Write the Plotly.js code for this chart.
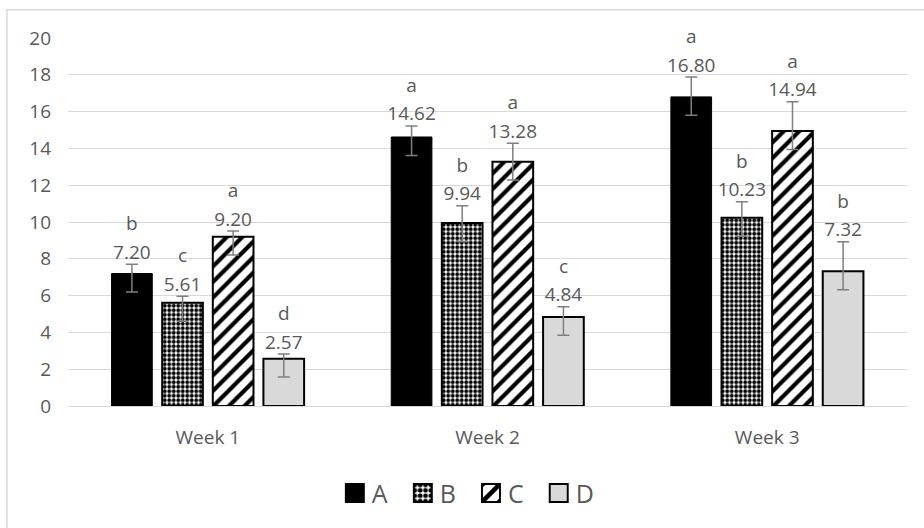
<!DOCTYPE html>
<html>
<head>
<meta charset="utf-8">
<script src="https://cdn.plot.ly/plotly-3.0.1.min.js"></script>
<style>html,body{margin:0;padding:0;background:#fff;}#chart{width:924px;height:528px;}</style>
</head>
<body>
<div id="chart"></div>
<script>
// ---- data ----
const categories = ["Week 1", "Week 2", "Week 3"];
const seriesNames = ["A", "B", "C", "D"];
const valuesA = [7.20, 14.62, 16.80];
const valuesB = [5.61, 9.94, 10.23];
const valuesC = [9.20, 13.28, 14.94];
const valuesD = [2.57, 4.84, 7.32];
const errPlusA = [0.50, 0.60, 1.08];
const errPlusB = [0.35, 0.94, 0.87];
const errPlusC = [0.31, 1.00, 1.60];
const errPlusD = [0.25, 0.55, 1.60];
const errMinusA = [1.0, 1.0, 1.0];
const errMinusB = [1.0, 1.0, 1.0];
const errMinusC = [1.0, 1.0, 1.0];
const errMinusD = [1.0, 1.0, 1.0];
const lettersA = ["b", "a", "a"];
const lettersB = ["c", "b", "b"];
const lettersC = ["a", "a", "a"];
const lettersD = ["d", "c", "b"];
const yTicks = [0, 2, 4, 6, 8, 10, 12, 14, 16, 18, 20];

const FONT = "Open Sans, sans-serif";
const GREY = "#595959";

const values = [valuesA, valuesB, valuesC, valuesD];
const plus = [errPlusA, errPlusB, errPlusC, errPlusD];
const minus = [errMinusA, errMinusB, errMinusC, errMinusD];
const letters = [lettersA, lettersB, lettersC, lettersD];

const markers = [
  {color: "#000000", line: {color: "#000000", width: 1}},
  {color: "#ffffff", line: {color: "#000000", width: 2},
   pattern: {shape: ".", fgcolor: "#000000", bgcolor: "#ffffff", size: 4.5, solidity: 0.6, fillmode: "replace"}},
  {color: "#ffffff", line: {color: "#000000", width: 2},
   pattern: {shape: "/", fgcolor: "#000000", bgcolor: "#ffffff", size: 11, solidity: 0.38, fillmode: "replace"}},
  {color: "#d9d9d9", line: {color: "#000000", width: 2}}
];

const traces = [];
for (let i = 0; i < 4; i++) {
  traces.push({
    type: "bar", name: seriesNames[i], x: categories, y: values[i],
    marker: markers[i],
    error_y: {type: "data", symmetric: false, array: plus[i], arrayminus: minus[i],
              color: "#7f7f7f", thickness: 1.5, width: 6},
    hoverinfo: "skip", offsetgroup: "g" + i, legendgroup: seriesNames[i]
  });
}
// letter + value labels just above the upper error bar
const span = s => "<span style='font-size:19px'>" + s + "</span>";
for (let i = 0; i < 4; i++) {
  traces.push({
    type: "scatter", mode: "text", showlegend: false,
    x: categories, y: values[i].map((v, k) => v + plus[i][k]),
    text: values[i].map((v, k) => span(letters[i][k]) + "<br>" + span(v.toFixed(2))),
    textposition: "top center",
    textfont: {family: FONT, size: 22, color: GREY},
    offsetgroup: "g" + i, hoverinfo: "skip", cliponaxis: false
  });
}

const layout = {
  width: 924, height: 528,
  margin: {l: 68, r: 17, t: 38, b: 122},
  paper_bgcolor: "#ffffff", plot_bgcolor: "#ffffff",
  barmode: "group", bargap: 0.276, bargroupgap: 0.196,
  scattermode: "group", scattergap: 0.276,
  font: {family: FONT, color: GREY, size: 19},
  showlegend: true,
  legend: {orientation: "h", x: 0.47, xanchor: "center", y: -0.237, yanchor: "middle",
           font: {family: FONT, size: 25, color: GREY}, traceorder: "normal", itemwidth: 37},
  xaxis: {type: "category", showgrid: false, zeroline: false, showline: true,
          linecolor: "#d9d9d9", linewidth: 1, ticks: "", ticklabelstandoff: 14,
          tickfont: {family: FONT, size: 19, color: GREY}, fixedrange: true},
  yaxis: {range: [0, 20], tickvals: yTicks, ticktext: yTicks.map(String), showgrid: true,
          gridcolor: "#d9d9d9", gridwidth: 1, zeroline: false, showline: false,
          ticks: "", ticklabelstandoff: 16,
          tickfont: {family: FONT, size: 19, color: GREY}, fixedrange: true},
  shapes: [{type: "rect", xref: "paper", yref: "paper",
            x0: -0.0727, x1: 1.04, y0: -0.36, y1: 1.0765,
            line: {color: "#d9d9d9", width: 1.5}, fillcolor: "rgba(0,0,0,0)", layer: "below"}]
};

Plotly.newPlot("chart", traces, layout, {staticPlot: true, displayModeBar: false}).then(function () {
  // enlarge legend swatches and sit them next to their labels, as in the reference
  document.querySelectorAll(".legend .legendpoints path").forEach(function (p) {
    p.setAttribute("transform", "translate(30,0) scale(1.5)");
    p.style.strokeWidth = "1.3px";
  });
});
</script>
</body>
</html>
